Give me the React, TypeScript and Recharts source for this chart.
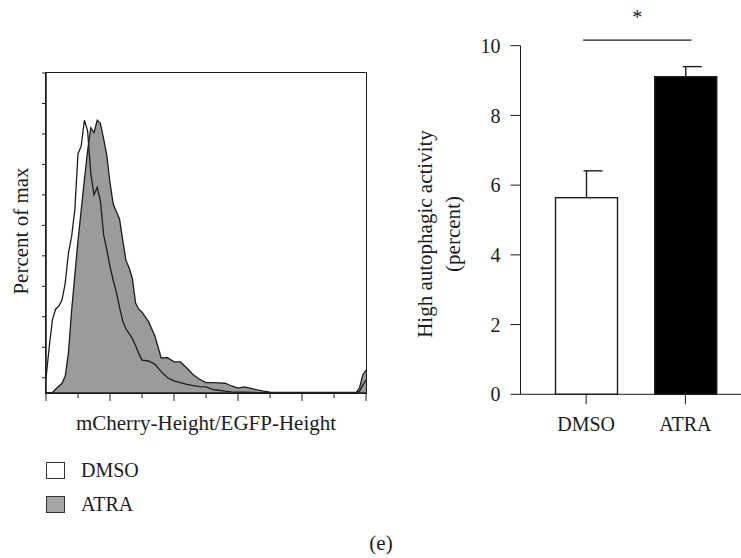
import React from 'react';
import {
  ComposedChart,
  Area,
  XAxis,
  YAxis,
  Legend,
  BarChart,
  Bar,
  Cell,
  ReferenceLine,
} from 'recharts';

const FONT = '"Liberation Serif", "Times New Roman", serif';
const INK = '#1c1c1c';

// histogram: channel bins (0-100 axis units) and percent of max per bin
const binX = [
  0, 1, 2, 3, 4, 5, 6, 7, 8, 9, 10, 11, 12, 13, 14, 15, 16, 17, 18, 19, 20,
  21, 22, 23, 24, 25, 26, 27, 28, 29, 30, 32, 34, 36, 38, 40, 42, 44, 46, 48,
  50, 52, 54, 56, 58, 60, 62, 64, 66, 68, 70, 75, 80, 85, 90, 95, 97, 98, 99, 100,
];
const dmsoPct = [
  4.8, 15, 24, 27.5, 28.5, 30.5, 36, 45.8, 51.3, 60, 78.5, 81, 89.5, 86, 72, 65,
  67.5, 63, 52, 47, 41.5, 37, 33, 28, 23.5, 21, 19.5, 17.8, 15.5, 13, 10.8, 10.5,
  9.5, 7, 5, 4, 3.4, 2.8, 2.4, 2.1, 2.0, 1.2, 0.9, 0.6, 0.4, 0.3, 0.25, 0.2, 0.15,
  0.12, 0.1, 0.1, 0.1, 0.1, 0.1, 0.1, 0.1, 0.6, 2.6, 4.3,
];
const atraPct = [
  0, 0.1, 0.2, 1.2, 2.2, 3.2, 5.5, 13, 27, 38.5, 50, 60, 70, 79.5, 87, 85.4,
  89.5, 88.5, 83.5, 78, 69, 62, 59.5, 57, 50, 43.5, 41, 37.5, 29.5, 27.5, 26.5,
  23.5, 18.8, 11.5, 11.6, 10.2, 10.2, 8.2, 6.0, 4.5, 3.4, 3.4, 3.3, 3.2, 2.3, 1.6,
  2.0, 1.5, 1.0, 0.6, 0.3, 0.2, 0.2, 0.2, 0.2, 0.2, 0.2, 1.8, 6, 7.5,
];
const histTicksX = [0, 5, 10, 15, 20, 25, 30, 35, 40, 45, 50, 55, 60, 65, 70, 75, 80, 85, 90, 95, 100];
const histTicksY = [0, 5, 10, 15, 20, 25, 30, 35, 40, 45, 50, 55, 60, 65, 70, 75, 80, 85, 90, 95, 100, 105];
const histMaxX = 100;
const histMaxY = 105;

const legendNames = ['DMSO', 'ATRA'];
const legendFills = ['#ffffff', '#a6a6a6'];

// bar panel
const groups = ['DMSO', 'ATRA'];
const meanActivity = [5.64, 9.11];
const semActivity = [0.77, 0.29];
const barFills = ['#ffffff', '#000000'];
const activityTicks = [0, 2, 4, 6, 8, 10];
const sigLevel = 10.16;

const histData = binX.map((x, i) => ({ x, dmso: dmsoPct[i], atra: atraPct[i] }));
const barData = groups.map((group, i) => ({ group, mean: meanActivity[i], sem: semActivity[i] }));

// histogram panel box
const HIST_W = 380;
const HIST_H = 558;
const HIST_TOP = 73;
const HIST_RIGHT = 14;
const HIST_YAXIS_W = 46;
const HIST_XAXIS_H = 165;

const HistTickY = (props: any) => {
  const { x, y, payload } = props;
  const len = payload.value % 20 === 0 ? 7 : 4;
  return <line x1={x} y1={y} x2={x - len} y2={y} stroke={INK} strokeWidth={1} />;
};

const HistTickX = (props: any) => {
  const { x, y, payload } = props;
  const len = payload.value % 20 === 0 ? 8 : 5;
  return <line x1={x} y1={y} x2={x} y2={y + len} stroke={INK} strokeWidth={1} />;
};

const PercentLabel = (props: any) => {
  const { x, y, height } = props.viewBox;
  const cx = x + 21;
  const cy = y + height / 2 - 2;
  return (
    <text
      x={cx}
      y={cy}
      transform={`rotate(-90, ${cx}, ${cy})`}
      textAnchor="middle"
      dominantBaseline="central"
      fontFamily={FONT}
      fontSize={21}
      fill={INK}
    >
      Percent of max
    </text>
  );
};

const ChannelLabel = (props: any) => {
  const { x, y, width } = props.viewBox;
  return (
    <text x={x + width / 2} y={y + 37} textAnchor="middle" fontFamily={FONT} fontSize={21} fill={INK}>
      mCherry-Height/EGFP-Height
    </text>
  );
};

const HistLegend = () => (
  <div style={{ fontFamily: FONT, fontSize: 20, color: INK }}>
    {legendNames.map((name, i) => (
      <div key={name} style={{ display: 'flex', alignItems: 'center', height: 34 }}>
        <span
          style={{
            display: 'inline-block',
            width: 17,
            height: 15,
            border: '1.4px solid #333',
            background: legendFills[i],
            marginRight: 16,
          }}
        />
        <span>{name}</span>
      </div>
    ))}
  </div>
);

const ActivityLabel = (props: any) => {
  const { x, y, height } = props.viewBox;
  const cy = y + height / 2 + 14;
  const lines = ['High autophagic activity', '(percent)'];
  return (
    <g>
      {lines.map((t, i) => {
        const cx = x + 45 + i * 28;
        return (
          <text
            key={t}
            x={cx}
            y={cy}
            transform={`rotate(-90, ${cx}, ${cy})`}
            textAnchor="middle"
            dominantBaseline="central"
            fontFamily={FONT}
            fontSize={21}
            fill={INK}
          >
            {t}
          </text>
        );
      })}
    </g>
  );
};

const MeanBar = (props: any) => {
  const { x, y, width, height, fill, payload } = props;
  const unit = height / payload.mean;
  const top = y - payload.sem * unit;
  const cx = x + width / 2;
  return (
    <g>
      <line x1={cx} y1={y} x2={cx} y2={top} stroke={INK} strokeWidth={1.4} />
      <line x1={cx - 3} y1={top} x2={cx + 16} y2={top} stroke={INK} strokeWidth={1.4} />
      <rect x={x} y={y} width={width} height={height} fill={fill} stroke={INK} strokeWidth={1.4} />
    </g>
  );
};

const SigBar = (props: any) => {
  const { x1, y1, x2 } = props;
  const a = x1 - 3;
  const b = x2 + 6;
  return (
    <g>
      <line x1={a} y1={y1} x2={b} y2={y1} stroke={INK} strokeWidth={1.3} />
      <text x={(a + b) / 2} y={y1 - 16.5} textAnchor="middle" fontFamily={FONT} fontSize={20} fill={INK}>
        *
      </text>
    </g>
  );
};

export default function App() {
  const boxW = HIST_W - HIST_YAXIS_W - HIST_RIGHT;
  const boxH = HIST_H - HIST_TOP - HIST_XAXIS_H;
  return (
    <div style={{ position: 'absolute', left: 0, top: 0, width: 741, height: 558, background: '#fff' }}>
      <div style={{ position: 'absolute', left: 0, top: 0, width: HIST_W, height: HIST_H }}>
        <ComposedChart
          width={HIST_W}
          height={HIST_H}
          data={histData}
          margin={{ top: HIST_TOP, right: HIST_RIGHT, bottom: 0, left: 0 }}
        >
          <XAxis
            dataKey="x"
            type="number"
            domain={[0, histMaxX]}
            ticks={histTicksX}
            height={HIST_XAXIS_H}
            tickSize={0}
            tickMargin={0}
            tickLine={false}
            tick={HistTickX}
            stroke={INK}
            strokeWidth={1.5}
            label={ChannelLabel}
          />
          <YAxis
            type="number"
            domain={[0, histMaxY]}
            ticks={histTicksY}
            width={HIST_YAXIS_W}
            tickSize={0}
            tickMargin={0}
            tickLine={false}
            tick={HistTickY}
            stroke={INK}
            strokeWidth={1.5}
            label={PercentLabel}
          />
          <Area
            type="linear"
            dataKey="atra"
            name="ATRA"
            fill="#9b9b9b"
            fillOpacity={1}
            stroke={INK}
            strokeWidth={1.3}
            isAnimationActive={false}
          />
          <Area
            type="linear"
            dataKey="dmso"
            name="DMSO"
            fill="none"
            fillOpacity={0}
            stroke={INK}
            strokeWidth={1.3}
            isAnimationActive={false}
          />
          <Legend
            layout="vertical"
            align="center"
            verticalAlign="middle"
            wrapperStyle={{ left: 46, top: 453, width: 'auto' }}
            content={() => <HistLegend />}
          />
        </ComposedChart>
        {/* closed box around the histogram plot area */}
        <div
          style={{
            position: 'absolute',
            zIndex: 5,
            left: HIST_YAXIS_W - 1,
            top: HIST_TOP - 1,
            width: boxW + 2,
            height: boxH + 2,
            borderTop: `1.5px solid ${INK}`,
            borderRight: `1.5px solid ${INK}`,
            borderLeft: `1.5px solid ${INK}`,
            borderBottom: `1.5px solid ${INK}`,
            boxSizing: 'border-box',
            pointerEvents: 'none',
          }}
        />
      </div>
      <div style={{ position: 'absolute', left: 380, top: 0 }}>
        <BarChart width={361} height={558} data={barData} margin={{ top: 45.7, right: 0, bottom: 123.7, left: 0 }}>
          <XAxis
            dataKey="group"
            padding={{ left: 16, right: 6 }}
            height={40}
            tickSize={10}
            tickMargin={12}
            stroke={INK}
            tick={{ fill: INK, fontSize: 20, fontFamily: FONT }}
          />
          <YAxis
            type="number"
            domain={[0, 10]}
            ticks={activityTicks}
            width={140.5}
            tickSize={10}
            tickMargin={10}
            stroke={INK}
            tick={{ fill: INK, fontSize: 20, fontFamily: FONT }}
            label={ActivityLabel}
          />
          <Bar dataKey="mean" barSize={62} isAnimationActive={false} shape={MeanBar}>
            {barData.map((d, i) => (
              <Cell key={d.group} fill={barFills[i]} />
            ))}
          </Bar>
          <ReferenceLine
            segment={[
              { x: groups[0], y: sigLevel },
              { x: groups[1], y: sigLevel },
            ]}
            ifOverflow="visible"
            shape={SigBar}
          />
        </BarChart>
      </div>
      <div
        style={{
          position: 'absolute',
          left: 331,
          width: 100,
          top: 533,
          textAlign: 'center',
          fontFamily: FONT,
          fontSize: 21,
          lineHeight: '21px',
          color: INK,
        }}
      >
        (e)
      </div>
    </div>
  );
}
